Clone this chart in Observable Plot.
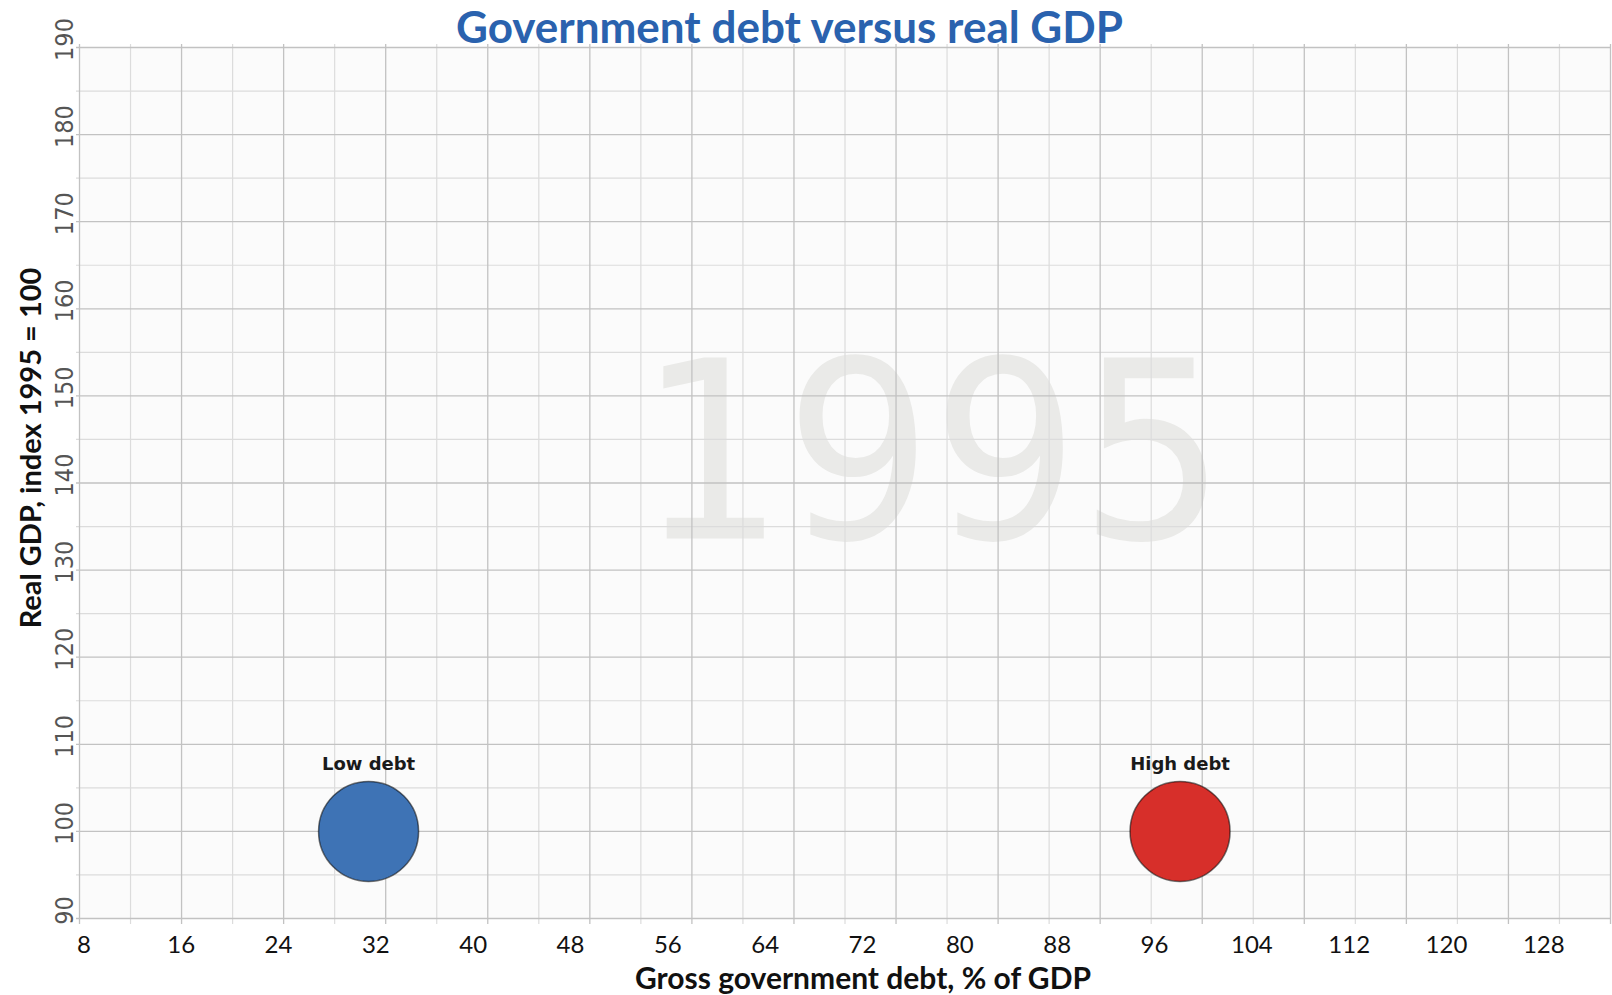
<!DOCTYPE html>
<html>
<head>
<meta charset="utf-8">
<script src="https://cdn.jsdelivr.net/npm/d3@7"></script>
<script src="https://cdn.jsdelivr.net/npm/@observablehq/plot@0.6"></script>
<style>
  html, body { margin: 0; padding: 0; background: #ffffff; }
  #wrap { width: 1612px; height: 995px; position: relative; overflow: hidden; }
  #title {
    height: 47px; line-height: 53px; width: 1612px; box-sizing: border-box;
    padding-right: 33px; text-align: center; overflow: visible;
    font-family: Lato, "Open Sans", sans-serif; font-weight: 700; font-size: 44px;
    color: #2a62ae; white-space: nowrap;
  }
  #chart svg { overflow: visible; display: block; }
</style>
</head>
<body>
<div id="wrap">
  <div id="title">Government debt versus real GDP</div>
  <div id="chart"></div>
</div>
<script>
// ---- data ----
const groups = ["Low debt", "High debt"];
const debt = [31.4, 98.1];          // gross government debt, % of GDP
const gdp = [100, 100];             // real GDP, index 1995 = 100
const groupColors = ["#3e73b5", "#d72f2a"];
const yearLabel = "1995";
const xTicks = [8, 16, 24, 32, 40, 48, 56, 64, 72, 80, 88, 96, 104, 112, 120, 128];
const yTicks = [90, 100, 110, 120, 130, 140, 150, 160, 170, 180, 190];
const yMinorTicks = [95, 105, 115, 125, 135, 145, 155, 165, 175, 185];
const xTitle = "Gross government debt, % of GDP";
const yTitle = "Real GDP, index 1995 = 100";

const table = groups.map((g, i) => ({group: g, debt: debt[i], gdp: gdp[i]}));

// ---- grid of the underlying motion chart (30 equal cells across the frame) ----
const xDomain = [7.64, 133.48];
const nCells = 30;
const gridX = d3.range(nCells + 1).map(i => xDomain[0] + i * (xDomain[1] - xDomain[0]) / nCells);
const gridXMajor = gridX.filter((d, i) => i % 2 === 0);
const gridXMinor = gridX.filter((d, i) => i % 2 === 1);

const narrow = "DejaVu Sans Condensed, DejaVu Sans, sans-serif";

const chart = Plot.plot({
  width: 1612,
  height: 948,
  marginTop: 0,
  marginBottom: 77,
  marginLeft: 79,
  marginRight: 2,
  x: {domain: xDomain},
  y: {domain: [90, 190]},
  color: {domain: groups, range: groupColors},
  style: {background: "transparent", overflow: "visible"},
  marks: [
    Plot.frame({fill: "#fbfbfb", stroke: null}),
    Plot.text([yearLabel], {
      frameAnchor: "middle", dx: 87, dy: -24,
      fontFamily: narrow, fontSize: 248, fill: "#eaeae8"
    }),
    Plot.ruleX(gridXMinor, {stroke: "#dcdcdc", strokeWidth: 1.2, insetTop: -3, insetBottom: -6}),
    Plot.ruleY(yMinorTicks, {stroke: "#dcdcdc", strokeWidth: 1.2, insetLeft: -3}),
    Plot.ruleX(gridXMajor, {stroke: "#c2c2c2", strokeWidth: 1.3, insetTop: -3, insetBottom: -6}),
    Plot.ruleY(yTicks, {stroke: "#c2c2c2", strokeWidth: 1.3, insetLeft: -3}),
    Plot.axisX(xTicks, {
      tickSize: 0, tickPadding: 17, label: null,
      fontFamily: "Lato, sans-serif", fontSize: 24, color: "#111"
    }),
    Plot.axisY(yTicks, {
      tickSize: 0, tickPadding: 7, tickRotate: -90, dy: -8, label: null,
      fontFamily: narrow, fontSize: 25, color: "#555"
    }),
    Plot.dot(table, {
      x: "debt", y: "gdp", r: 50, fill: "group",
      stroke: "#000", strokeOpacity: 0.55, strokeWidth: 1.5
    }),
    Plot.text(table, {
      x: "debt", y: "gdp", text: "group", dy: -67,
      fontFamily: "DejaVu Sans, sans-serif", fontWeight: "bold", fontSize: 18, fill: "#1a1a1a"
    }),
    Plot.text([xTitle], {
      frameAnchor: "bottom", lineAnchor: "bottom", dx: 18, dy: 70,
      fontFamily: "Lato, sans-serif", fontWeight: 700, fontSize: 30, fill: "#111"
    }),
    Plot.text([yTitle], {
      frameAnchor: "left", textAnchor: "middle", rotate: -90, dx: -48, dy: -35,
      fontFamily: "Lato, sans-serif", fontWeight: 700, fontSize: 29, fill: "#111"
    })
  ]
});
// stretch the large year watermark to the width it has in the original
d3.select(chart).selectAll("text")
  .filter(function() { return this.textContent === yearLabel; })
  .attr("textLength", 588)
  .attr("lengthAdjust", "spacingAndGlyphs");
document.getElementById("chart").appendChild(chart);
</script>
</body>
</html>
